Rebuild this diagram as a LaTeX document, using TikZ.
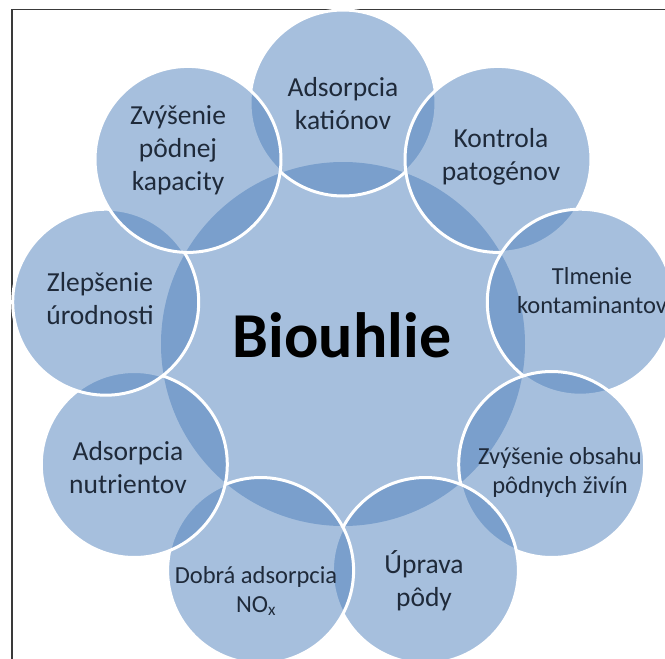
\documentclass[tikz,border=0pt]{standalone}
\usepackage{fontspec}
\setmainfont{Carlito}
\definecolor{satblue}{HTML}{4F81BD}
\definecolor{txtcol}{HTML}{1F2A3A}
\definecolor{framecol}{HTML}{3A3A3A}
\begin{document}
\begin{tikzpicture}[x=1pt,y=-1pt,
  bub/.style={circle, inner sep=0pt, outer sep=0pt, minimum size=186pt, fill=satblue, fill opacity=0.5, draw=white, line width=3pt},
  hubc/.style={circle, inner sep=0pt, outer sep=0pt, minimum size=364pt, fill=satblue, fill opacity=0.5},
  bigtxt/.style={text=txtcol, align=center, inner sep=0pt, font=\fontsize{27.5}{33}\selectfont},
  smalltxt/.style={text=txtcol, align=center, inner sep=0pt, font=\fontsize{24.5}{29}\selectfont}]
\useasboundingbox (0,0) rectangle (665,659);
\fill[white] (0,0) rectangle (665,659);
% frame
\coordinate (fbl) at (12,670);
\coordinate (ftl) at (12,9.5);
\coordinate (ftr) at (670,9.5);
\draw[framecol, line width=1.5pt] (fbl) -- (ftl) -- (ftr);
% hub
\node[hubc] (hub) at (343,344) {};
% satellites clockwise from top
\node[bub] (s1) at (343,103) {};
\node[bub] (s2) at (498,159.4) {};
\node[bub] (s3) at (580.3,302.2) {};
\node[bub] (s4) at (551.7,464.5) {};
\node[bub] (s5) at (425.4,570.5) {};
\node[bub] (s6) at (260.6,570.5) {};
\node[bub] (s7) at (134.3,464.5) {};
\node[bub] (s8) at (105.7,302.2) {};
\node[bub] (s9) at (188,159.4) {};
% texts
\node[bigtxt] (t1) at (343,104) {Adsorpcia\\katiónov};
\node[bigtxt] (t2) at (501,157) {Kontrola\\patogénov};
\node[smalltxt] (t3) at (592,291) {Tlmenie\\kontaminantov};
\node[smalltxt] (t4) at (560,472) {Zvýšenie obsahu\\pôdnych živín};
\node[bigtxt] (t5) at (424,581) {Úprava\\pôdy};
\node[smalltxt] (t6) at (256,591) {Dobrá adsorpcia\\NO\textsubscript{x}};
\node[bigtxt] (t7) at (128,468) {Adsorpcia\\nutrientov};
\node[bigtxt] (t8) at (100,299) {Zlepšenie\\úrodnosti};
\node[bigtxt] (t9) at (178,150) {Zvýšenie\\pôdnej\\kapacity};
\node[anchor=base, inner sep=0pt, font=\fontsize{64}{70}\selectfont\bfseries] (title) at (342,357) {Biouhlie};
\end{tikzpicture}
\end{document}
